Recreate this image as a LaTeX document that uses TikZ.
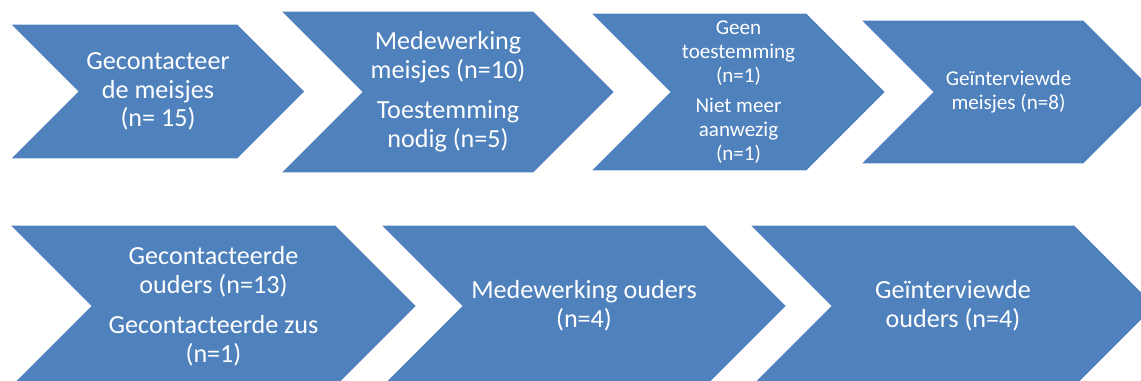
\documentclass[tikz,border=0pt]{standalone}
\usepackage{fontspec}
\setmainfont{Carlito}
\usetikzlibrary{calc}
\definecolor{Chevron}{HTML}{4F81BD}
\pgfdeclarelayer{bg}
\pgfsetlayers{bg,main}
\begin{document}
\begin{tikzpicture}[
 x=0.75pt,y=-0.75pt,
 b/.style={inner sep=0pt,text=white,align=center,font=\fontsize{19.6}{21.6}\selectfont},
 bs/.style={b,font=\fontsize{15.8}{18}\selectfont}
]
\useasboundingbox (0,0) rectangle (1141,381);
% top row
\node[b,minimum width=158*0.75pt,minimum height=133*0.75pt] (c1) at (158,91.5) {Gecontacteer\\de meisjes\\(n= 15)};
\node[b,minimum width=170*0.75pt,minimum height=160*0.75pt] (c2) at (448,92) {Medewerking\\meisjes (n=10)\\[8.5pt]Toestemming\\nodig (n=5)};
\node[bs,minimum width=135*0.75pt,minimum height=156*0.75pt] (c3) at (738.5,92) {Geen\\toestemming\\(n=1)\\[5pt]Niet meer\\aanwezig\\(n=1)};
\node[bs,minimum width=149*0.75pt,minimum height=142*0.75pt] (c4) at (1008.5,92) {Geïnterviewde\\meisjes (n=8)};
% bottom row
\node[b,minimum width=243*0.75pt,minimum height=160*0.75pt] (c5) at (213.5,306) {Gecontacteerde\\ouders (n=13)\\[8.5pt]Gecontacteerde zus\\(n=1)};
\node[b,minimum width=242*0.75pt,minimum height=160*0.75pt] (c6) at (584,306) {Medewerking ouders\\(n=4)};
\node[b,minimum width=242*0.75pt,minimum height=160*0.75pt] (c7) at (953,306) {Geïnterviewde\\ouders (n=4)};
\begin{pgfonlayer}{bg}
\clip (0,0) rectangle (1141,381);
\foreach \c in {c1,c2,c3,c4,c5,c6,c7}
  \fill[Chevron] let \p1=($(\c.north)-(\c.center)$) in
    ($(\c.north west)+(-\y1,0pt)$) -- (\c.north east) -- ($(\c.east)+(\y1,0pt)$)
    -- (\c.south east) -- ($(\c.south west)+(-\y1,0pt)$) -- (\c.west) -- cycle;
\end{pgfonlayer}
\end{tikzpicture}
\end{document}
